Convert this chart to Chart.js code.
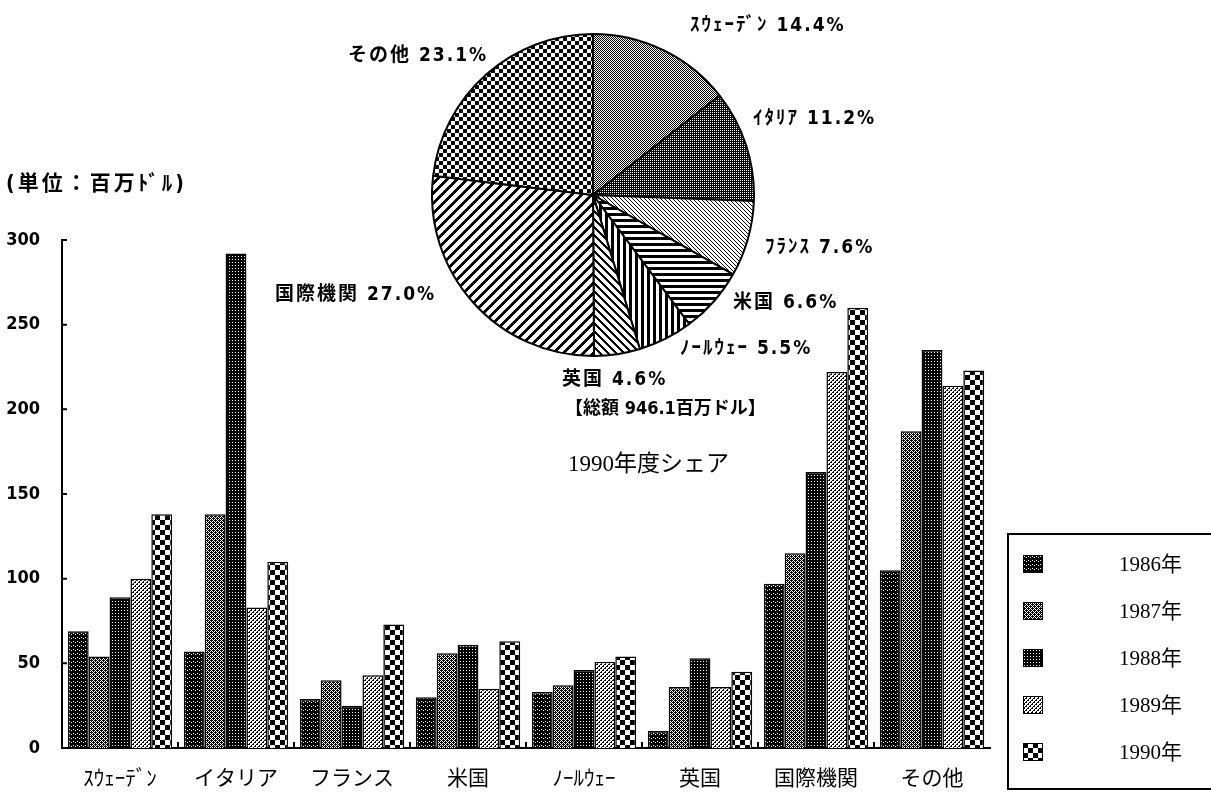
<!DOCTYPE html>
<html lang="ja">
<head>
<meta charset="utf-8">
<script src="https://cdn.jsdelivr.net/npm/chart.js@4.4.1/dist/chart.umd.min.js"></script>
<style>
body { margin:0; background:#fff; width:1211px; height:798px; overflow:hidden; position:relative; font-family:"Noto Sans CJK JP", sans-serif; }
#bars { position:absolute; left:0; top:0; }
#pie { position:absolute; left:431px; top:33px; }
.lbl { position:absolute; font-weight:bold; font-size:19px; white-space:nowrap; color:#000; line-height:1; letter-spacing:2px;
       font-family:"DejaVu Sans Condensed","Noto Sans CJK JP",sans-serif; }
#share { position:absolute; left:568px; top:452px; font-size:23px; white-space:nowrap; line-height:1; font-family:"Liberation Serif","Noto Sans CJK JP",serif; }
#legend { position:absolute; left:1007px; top:533px; width:220px; height:257px; border:2px solid #000; box-sizing:border-box; }
.row { position:absolute; left:14px; height:24px; }
.row canvas { position:absolute; left:0; top:3px; }
.row span { position:absolute; left:96px; top:0; font-size:21px; line-height:24px; white-space:nowrap; font-family:"Liberation Serif","Noto Sans CJK JP",serif; }
</style>
</head>
<body>
<canvas id="bars" width="1211" height="798"></canvas>
<canvas id="pie" width="324" height="324"></canvas>
<div id="legend"></div>
<script>
// data (millions of dollars)
const categories = ['ｽｳｪｰﾃﾞﾝ', 'イタリア', 'フランス', '米国', 'ﾉｰﾙｳｪｰ', '英国', '国際機関', 'その他'];
const years = ['1986年', '1987年', '1988年', '1989年', '1990年'];
const v1986 = [69, 57, 29, 30, 33, 10, 97, 105];
const v1987 = [54, 138, 40, 56, 37, 36, 115, 187];
const v1988 = [89, 292, 25, 61, 46, 53, 163, 235];
const v1989 = [100, 83, 43, 35, 51, 36, 222, 214];
const v1990 = [138, 110, 73, 63, 54, 45, 260, 223];
const yTicks = [0, 50, 100, 150, 200, 250, 300];

// 1990 share pie
const pieLabels = ['ｽｳｪｰﾃﾞﾝ', 'ｲﾀﾘｱ', 'ﾌﾗﾝｽ', '米国', 'ﾉｰﾙｳｪｰ', '英国', '国際機関', 'その他'];
const pieShares = [14.4, 11.2, 7.6, 6.6, 5.5, 4.6, 27.0, 23.1];
const unitText = '(単位：百万ﾄﾞﾙ)';
const totalText = '【総額 946.1百万ドル】';
const shareTitle = '1990年度シェア';

// fill patterns, drawn pixel by pixel
function makePattern(size, isBlack) {
    var c = document.createElement('canvas');
    c.width = size; c.height = size;
    var g = c.getContext('2d');
    g.fillStyle = '#fff';
    g.fillRect(0, 0, size, size);
    g.fillStyle = '#000';
    for (var x = 0; x < size; x++)
        for (var y = 0; y < size; y++)
            if (isBlack(x, y)) g.fillRect(x, y, 1, 1);
    return g.createPattern(c, 'repeat');
}

const barPatterns = [
    makePattern(4, (x, y) => !((x == 1 && y == 1) || (x == 3 && y == 2))),        // 1986 almost black
    makePattern(4, (x, y) => (x + y) % 2 == 0 || (x == 1 && y == 2) || (x == 3 && y == 0)), // 1987 mid grey
    makePattern(3, (x, y) => !(x == 1 && y == 1)),                              // 1988 dark with dots
    makePattern(4, (x, y) => (x + y) % 4 == 0 || (x + y) % 4 == 1 && y % 2 == 0), // 1989 light hatch
    makePattern(10, (x, y) => (x < 5) == (y < 5))                               // 1990 checker
];

const piePatterns = [
    makePattern(2, (x, y) => (x + y) % 2 == 0),
    makePattern(2, (x, y) => !(x == 1 && y == 1)),
    makePattern(4, (x, y) => (x - y + 4) % 4 == 0),
    makePattern(6, (x, y) => y < 3),
    makePattern(6, (x, y) => x < 3),
    makePattern(8, (x, y) => (x - y + 8) % 8 < 3),
    makePattern(10, (x, y) => (x + y) % 10 < 4),
    makePattern(8, (x, y) => (x < 4) == (y < 4))
];

// small inward tick marks like the original
const axisTicks = {
    id: 'axisTicks',
    afterDraw(chart) {
        var ctx = chart.ctx, xs = chart.scales.x, ys = chart.scales.y;
        ctx.save();
        ctx.strokeStyle = '#000';
        ctx.lineWidth = 2;
        ctx.beginPath();
        yTicks.forEach(v => {
            var py = ys.getPixelForValue(v);
            ctx.moveTo(ys.right, py);
            ctx.lineTo(ys.right + 5, py);
        });
        for (var i = 1; i < categories.length; i++) {
            var px = (xs.getPixelForValue(i - 1) + xs.getPixelForValue(i)) / 2;
            ctx.moveTo(px, xs.top);
            ctx.lineTo(px, xs.top - 6);
        }
        ctx.stroke();
        ctx.restore();
    }
};

const series = [v1986, v1987, v1988, v1989, v1990];

new Chart(document.getElementById('bars'), {
    type: 'bar',
    data: {
        labels: categories,
        datasets: series.map((d, i) => ({
            label: years[i],
            data: d,
            backgroundColor: barPatterns[i],
            borderColor: '#000',
            borderWidth: 1.5,
            categoryPercentage: 0.9,
            barPercentage: 1.0
        }))
    },
    options: {
        responsive: false,
        animation: false,
        layout: { padding: { top: 240, right: 221, left: 0, bottom: 0 } },
        plugins: { legend: { display: false }, tooltip: { enabled: false } },
        scales: {
            x: {
                grid: { display: false, drawTicks: false },
                border: { display: true, color: '#000', width: 2 },
                ticks: { color: '#000', padding: 16, maxRotation: 0, autoSkip: false,
                         font: { family: '"Noto Sans CJK JP"', size: 21 } },
                afterFit: s => { s.height = 50; }
            },
            y: {
                min: 0, max: 300,
                grid: { display: false, drawTicks: false },
                border: { display: true, color: '#000', width: 2 },
                ticks: { stepSize: 50, color: '#000', padding: 22,
                         font: { family: '"DejaVu Sans Condensed"', size: 18, weight: 'bold' } },
                afterFit: s => { s.width = 62; }
            }
        }
    },
    plugins: [axisTicks]
});

new Chart(document.getElementById('pie'), {
    type: 'pie',
    data: {
        labels: pieLabels,
        datasets: [{ data: pieShares, backgroundColor: piePatterns, borderColor: '#000', borderWidth: 2 }]
    },
    options: {
        responsive: false,
        animation: false,
        plugins: { legend: { display: false }, tooltip: { enabled: false } }
    }
});

// text around the pie
function addText(text, left, top, cls, extra) {
    var d = document.createElement('div');
    d.className = cls;
    d.textContent = text;
    d.style.left = left + 'px';
    d.style.top = top + 'px';
    if (extra) Object.assign(d.style, extra);
    document.body.appendChild(d);
}
const pieLabelPos = [[690, 15], [753, 108], [765, 237], [733, 292], [680, 338], [562, 369], [275, 284], [348, 45]];
pieLabels.forEach((name, i) => {
    addText(name + ' ' + pieShares[i].toFixed(1) + '%', pieLabelPos[i][0], pieLabelPos[i][1], 'lbl');
});
addText(unitText, 6, 173, 'lbl', { fontSize: '21px', letterSpacing: '3px' });
addText(totalText, 565, 399, 'lbl', { fontSize: '18px', letterSpacing: '0px' });
var st = document.createElement('div');
st.id = 'share';
st.textContent = shareTitle;
document.body.appendChild(st);

// legend box
var legend = document.getElementById('legend');
years.forEach((y, i) => {
    var row = document.createElement('div');
    row.className = 'row';
    row.style.top = (17 + i * 47) + 'px';
    var sw = document.createElement('canvas');
    sw.width = 20; sw.height = 18;
    var g = sw.getContext('2d');
    g.fillStyle = barPatterns[i];
    g.fillRect(0, 0, 20, 18);
    g.strokeStyle = '#000';
    g.lineWidth = 1;
    g.strokeRect(0.5, 0.5, 19, 17);
    var sp = document.createElement('span');
    sp.textContent = y;
    row.appendChild(sw);
    row.appendChild(sp);
    legend.appendChild(row);
});
</script>
</body>
</html>
